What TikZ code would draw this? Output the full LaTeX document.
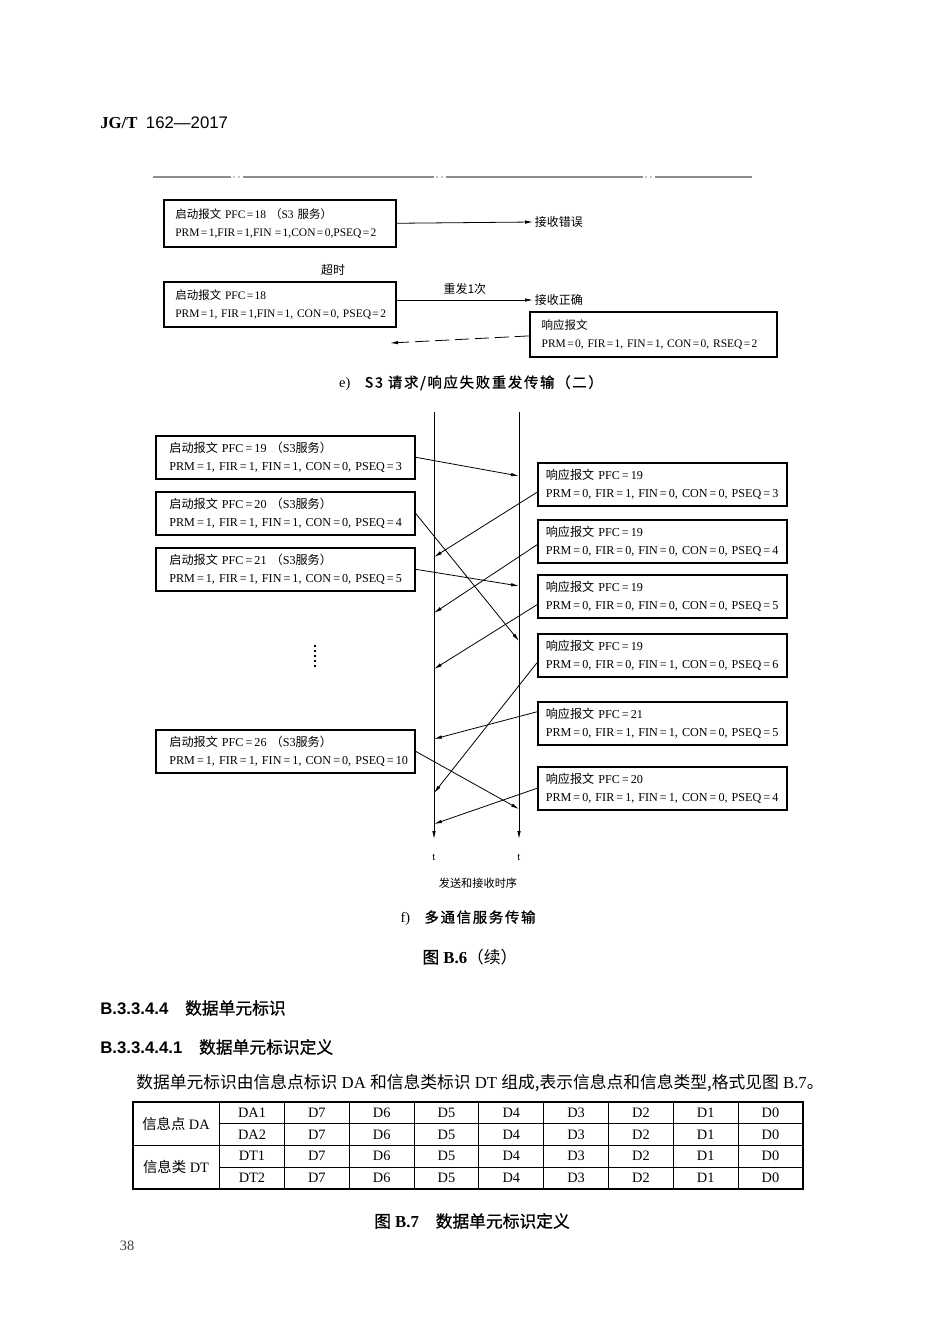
\documentclass[tikz,border=0pt]{standalone}
\usepackage{fontspec}
\setmainfont{Liberation Serif}
\newfontfamily\zhfont{Noto Sans CJK SC}
\newfontfamily\zhhead[FakeBold=1]{Noto Sans CJK SC}
\newfontfamily\zhwide[LetterSpace=12, FakeBold=1]{Noto Sans CJK SC}
\newfontfamily\hvfont{Liberation Sans}
\newcommand{\zh}[1]{{\zhfont #1}}
\newcommand{\eqe}{\makebox[0.8em]{=}}
\newcommand{\eqf}{\makebox[0.9em]{=}}
\usetikzlibrary{arrows.meta}
\tikzset{
  msgbox/.style={draw, line width=1pt, anchor=north west, align=left, inner ysep=0pt,
    font=\fontsize{7.6}{11.3}\selectfont},
  ebox/.style={msgbox, font=\fontsize{7.2}{11}\selectfont, minimum height=28.2pt},
  sendbox/.style={msgbox, text width=145.2pt, inner xsep=8.5pt, minimum height=26.9pt},
  replybox/.style={msgbox, text width=146pt, inner xsep=5pt, minimum height=26.9pt},
  note/.style={font=\zhfont\fontsize{7.5}{9}\selectfont, inner sep=1pt},
  cell/.style={font=\fontsize{9}{10}\selectfont, inner sep=0pt},
  msg/.style={-{Latex[length=5pt,width=2.2pt]}, line width=0.5pt}
}
\begin{document}
\begin{tikzpicture}[x=0.6264pt, y=-0.6264pt]
\useasboundingbox[fill=white] (0,0) rectangle (950,1344);

% Header
\node[anchor=west, inner sep=0pt, font=\fontsize{10.5}{12}\selectfont] (head) at (100,123) {\textbf{JG/T}\enspace{\hvfont 162—2017}};

% Cut line
\draw[black!45, line width=1.2pt] (153,177) -- (231,177) (243,177) -- (434,177) (446,177) -- (643,177) (655,177) -- (752,177);
\foreach \x in {234,239,437,442,646,651}
  \fill[black!45] (\x,177) circle (0.6pt);

% e) resend
\node[ebox, text width=131pt, inner xsep=7.2pt, minimum height=29.4pt] (s18a) at (163,199)
  {\zh{启动报文} PFC\eqe18 \zh{（}S3 \zh{服务）}\\\mbox{PRM\eqe1,FIR\eqe1,FIN\,\eqe1,CON\eqe0,PSEQ\eqe2}};
\node[note, anchor=west] (err) at (533,222) {接收错误};
\draw[msg] (s18a.east) -- (err.west);

\node[note] (tout) at (333,270) {超时};
\node[ebox, text width=131pt, inner xsep=7.2pt] (s18b) at (163,281)
  {\zh{启动报文} PFC\eqe18\\\mbox{PRM\eqe1, FIR\eqe1,FIN\eqe1, CON\eqe0, PSEQ\eqe2}};
\node[note, anchor=west] (ok) at (533,300) {接收正确};
\draw[msg] (s18b.east |- ok.west) -- node[note, above=2pt] (again) {重发1次} (ok.west);

\node[ebox, text width=140pt, inner xsep=7.4pt] (r18) at (529,311)
  {\zh{响应报文}\\\mbox{PRM\eqe0, FIR\eqe1, FIN\eqe1, CON\eqe0, RSEQ\eqe2}};
\coordinate (back) at (390,343);
\draw[msg, dash pattern=on 9pt off 3.5pt] ([yshift=-1pt]r18.west) -- (back);

\node[font=\fontsize{9}{10}\selectfont] (cap-e) at (471,383) {e)\quad{\zhwide S3 请求/响应失败重发传输（二）}};

% f) time lines
\coordinate (tl-top) at (434,412);
\coordinate (tr-top) at (519,412);
\coordinate (tl-end) at (434,839);
\coordinate (tr-end) at (519,839);
\draw[msg] (tl-top) -- (tl-end);
\draw[msg] (tr-top) -- (tr-end);
\node[font=\fontsize{7}{8}\selectfont] (tl) at (434,857) {t};
\node[font=\fontsize{7}{8}\selectfont] (tr) at (519,857) {t};

% Send boxes
\node[sendbox] (q19) at (155,435) {\zh{启动报文} PFC\eqf19 \zh{（}S3\zh{服务）}\\\mbox{PRM\eqf1, FIR\eqf1, FIN\eqf1, CON\eqf0, PSEQ\eqf3}};
\node[sendbox] (q20) at (155,491) {\zh{启动报文} PFC\eqf20 \zh{（}S3\zh{服务）}\\\mbox{PRM\eqf1, FIR\eqf1, FIN\eqf1, CON\eqf0, PSEQ\eqf4}};
\node[sendbox] (q21) at (155,547) {\zh{启动报文} PFC\eqf21 \zh{（}S3\zh{服务）}\\\mbox{PRM\eqf1, FIR\eqf1, FIN\eqf1, CON\eqf0, PSEQ\eqf5}};
\node[sendbox] (q26) at (155,729) {\zh{启动报文} PFC\eqf26 \zh{（}S3\zh{服务）}\\\mbox{PRM\eqf1, FIR\eqf1, FIN\eqf1, CON\eqf0, PSEQ\eqf10}};
\draw[line width=1.2pt, dash pattern=on 1pt off 2.2pt] (315,645) -- (315,667);

% Reply boxes
\node[replybox] (a19a) at (537,462) {\zh{响应报文} PFC\eqf19\\\mbox{PRM\eqf0, FIR\eqf1, FIN\eqf0, CON\eqf0, PSEQ\eqf3}};
\node[replybox] (a19b) at (537,519) {\zh{响应报文} PFC\eqf19\\\mbox{PRM\eqf0, FIR\eqf0, FIN\eqf0, CON\eqf0, PSEQ\eqf4}};
\node[replybox] (a19c) at (537,574) {\zh{响应报文} PFC\eqf19\\\mbox{PRM\eqf0, FIR\eqf0, FIN\eqf0, CON\eqf0, PSEQ\eqf5}};
\node[replybox] (a19d) at (537,633) {\zh{响应报文} PFC\eqf19\\\mbox{PRM\eqf0, FIR\eqf0, FIN\eqf1, CON\eqf0, PSEQ\eqf6}};
\node[replybox] (a21) at (537,701) {\zh{响应报文} PFC\eqf21\\\mbox{PRM\eqf0, FIR\eqf1, FIN\eqf1, CON\eqf0, PSEQ\eqf5}};
\node[replybox] (a20) at (537,766) {\zh{响应报文} PFC\eqf20\\\mbox{PRM\eqf0, FIR\eqf1, FIN\eqf1, CON\eqf0, PSEQ\eqf4}};

% Messages
\coordinate (p1) at (519,476);
\coordinate (p2) at (434,557);
\coordinate (p3) at (519,641);
\coordinate (p4) at (519,586);
\coordinate (p5) at (434,613);
\coordinate (p6) at (434,669);
\coordinate (p7) at (434,793);
\coordinate (p8) at (434,739);
\coordinate (p9) at (519,809);
\coordinate (p10) at (434,824);
\draw[msg] (q19.east) -- (p1);
\draw[msg] ([yshift=-5pt]a19a.west) -- (p2);
\draw[msg] (q20.east) -- (p3);
\draw[msg] (q21.east) -- (p4);
\draw[msg] ([yshift=-2.2pt]a19b.west) -- (p5);
\draw[msg] ([yshift=-5.3pt]a19c.west) -- (p6);
\draw[msg] ([yshift=-4.7pt]a19d.west) -- (p7);
\draw[msg] ([yshift=7.2pt]a21.west) -- (p8);
\draw[msg] (q26.east) -- (p9);
\draw[msg] (a20.west) -- (p10);

\node[font=\zhfont\fontsize{7}{8}\selectfont] (timing) at (478,883) {发送和接收时序};
\node[font=\fontsize{9}{10}\selectfont] (cap-f) at (468,918) {f)\quad{\zhwide 多通信服务传输}};
\node[font=\fontsize{10.5}{12}\selectfont] (fig6) at (470,957) {{\zhhead 图}\ \textbf{B.6}\zh{（续）}};

% Section text
\node[anchor=west, inner sep=0pt, font=\fontsize{10.5}{12}\selectfont] (sec1) at (100,1008) {{\hvfont\bfseries B.3.3.4.4}\quad{\zhhead 数据单元标识}};
\node[anchor=west, inner sep=0pt, font=\fontsize{10.5}{12}\selectfont] (sec2) at (100,1047) {{\hvfont\bfseries B.3.3.4.4.1}\quad{\zhhead 数据单元标识定义}};
\node[anchor=west, inner sep=0pt, font=\fontsize{10.5}{12}\selectfont] (para) at (136,1083)
  {\zh{数据单元标识由信息点标识} DA \zh{和信息类标识} DT \zh{组成,表示信息点和信息类型,格式见图} B.7\zh{。}};

% Table
\draw[line width=1pt] (133,1102) rectangle (803,1189);
\draw[line width=0.6pt] (219.5,1102) -- (219.5,1189);
\foreach \i in {0,...,7}
  \draw[line width=0.6pt] ({284.5+64.8*\i},1102) -- ({284.5+64.8*\i},1189);
\draw[line width=0.6pt] (219.5,1123.75) -- (803,1123.75);
\draw[line width=0.6pt] (133,1145.5) -- (803,1145.5);
\draw[line width=0.6pt] (219.5,1167.25) -- (803,1167.25);
\node[cell] (grp-a) at (176,1124) {\zh{信息点} DA};
\node[cell] (grp-t) at (176,1167) {\zh{信息类} DT};
\foreach \r/\y/\name in {1/1113/DA1, 2/1135/DA2, 3/1156/DT1, 4/1178/DT2} {
  \node[cell] (id-\r) at (252,\y) {\name};
  \foreach \lab [count=\i] in {D7,D6,D5,D4,D3,D2,D1,D0}
    \node[cell] (bit-\r-\i) at ({284.5+64.8*(\i-0.5)},\y) {\lab};
}

\node[font=\fontsize{10.5}{12}\selectfont] (fig7) at (472,1221) {{\zhhead 图}\ \textbf{B.7}\quad{\zhhead 数据单元标识定义}};
\node[font=\fontsize{9}{10}\selectfont, text=black!75] (page) at (127,1246) {38};
\end{tikzpicture}
\end{document}
